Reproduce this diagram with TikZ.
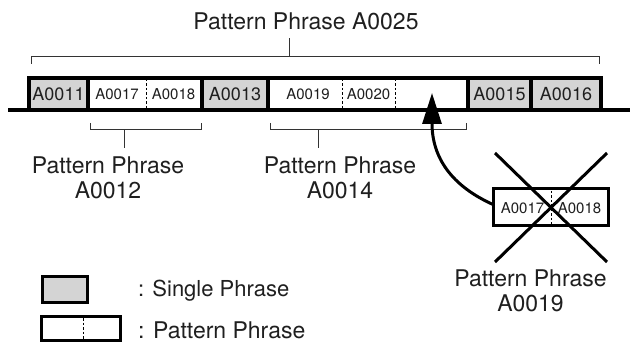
\documentclass[tikz,border=0pt]{standalone}
\usepackage{fontspec}
\setmainfont{TeX Gyre Heros}
\usetikzlibrary{arrows.meta}
\definecolor{cellgray}{gray}{0.83}
\definecolor{inkc}{gray}{0.12}
\begin{document}
\begin{tikzpicture}[x=1pt,y=-1pt,
  cellbox/.style={draw=black, line width=3.5pt, minimum height=32pt, inner sep=0pt, outer sep=0pt, anchor=center},
  graycell/.style={cellbox, fill=cellgray, text=inkc, font=\fontsize{18}{20}\selectfont},
  whitecell/.style={cellbox, fill=white},
  smalltxt/.style={font=\fontsize{15}{17}\selectfont, inner sep=0pt, text=inkc},
  bigtxt/.style={font=\fontsize{23}{25}\selectfont, inner sep=0pt, anchor=base, text=inkc},
  legtxt/.style={font=\fontsize{22}{24}\selectfont, inner sep=0pt, anchor=base west, text=inkc},
  divider/.style={line width=0.9pt, dash pattern=on 2.5pt off 2pt},
  bracket/.style={line width=1pt, draw=black!80},
  heavy/.style={line width=3pt, draw=black},
]
\useasboundingbox (0,0) rectangle (630,342);

% base line
\coordinate (bl0) at (8,110.5);
\coordinate (bl1) at (630,110.5);
\draw[line width=4pt] (bl0) -- (bl1);

% strip of phrases
\node[whitecell, minimum width=114pt] (p12) at (145,94) {};
\node[whitecell, minimum width=200pt] (p14) at (368,94) {};
\node[graycell, minimum width=59pt] (a11) at (58.5,94) {A0011};
\node[graycell, minimum width=66pt] (a13) at (235,94) {A0013};
\node[graycell, minimum width=63pt] (a15) at (499.5,94) {A0015};
\node[graycell, minimum width=70pt] (a16) at (566,94) {A0016};

\draw[divider] (146,79) -- (146,109);
\draw[divider] (342,79) -- (342,109);
\draw[divider] (395,79) -- (395,109);

\node[smalltxt] (t17) at (117,94) {A0017};
\node[smalltxt] (t18) at (173.5,94) {A0018};
\node[smalltxt] (t19) at (308,94) {A0019};
\node[smalltxt] (t20) at (368.5,94) {A0020};

% top bracket
\draw[bracket] (31,64) -- (31,57) -- (599,57) -- (599,64);
\draw[bracket] (289,57) -- (289,38);
\node[bigtxt] (title) at (306,30) {Pattern Phrase A0025};

% bracket A0012
\draw[bracket] (90,123) -- (90,130) -- (201,130) -- (201,123);
\draw[bracket] (124,130) -- (124,148);
\node[bigtxt] (l12a) at (108,174) {Pattern Phrase};
\node[bigtxt] (l12b) at (108,199) {A0012};

% bracket A0014
\draw[bracket] (270,123) -- (270,130) -- (466,130) -- (466,123);
\draw[bracket] (318,130) -- (318,148);
\node[bigtxt] (l14a) at (340,174) {Pattern Phrase};
\node[bigtxt] (l14b) at (340,199) {A0014};

% crossed pattern phrase
\node[whitecell, line width=3pt, minimum width=115pt, minimum height=37pt] (cb) at (550.5,207.5) {};
\draw[divider] (551,191) -- (551,224);
\node[smalltxt] (c17) at (522.5,208) {A0017};
\node[smalltxt] (c18) at (579.5,208) {A0018};
\coordinate (x1) at (495,153);
\coordinate (x2) at (607,262);
\coordinate (x3) at (607,153);
\coordinate (x4) at (495,262);
\draw[heavy] (x1) -- (x2);
\draw[heavy] (x3) -- (x4);
\node[bigtxt] (l19a) at (530.5,287) {Pattern Phrase};
\node[bigtxt] (l19b) at (530.5,312) {A0019};

% arrow
\coordinate (tip) at (432,93);
\draw[heavy, -{Triangle[length=31pt,width=19pt]}] ([yshift=3pt]cb.west) .. controls (452,186) and (432,158) .. (tip);

% legend
\node[cellbox, fill=cellgray, line width=3pt, minimum width=45pt, minimum height=26pt] (lg1) at (64.5,289.5) {};
\node[legtxt] (lt1) at (138,296.5) {: Single Phrase};
\node[cellbox, fill=white, line width=3pt, minimum width=79pt, minimum height=24pt] (lg2) at (81,328.5) {};
\draw[divider] (83,318) -- (83,339);
\node[legtxt, font=\fontsize{23}{25}\selectfont] (lt2) at (138,338) {: Pattern Phrase};
\end{tikzpicture}
\end{document}
